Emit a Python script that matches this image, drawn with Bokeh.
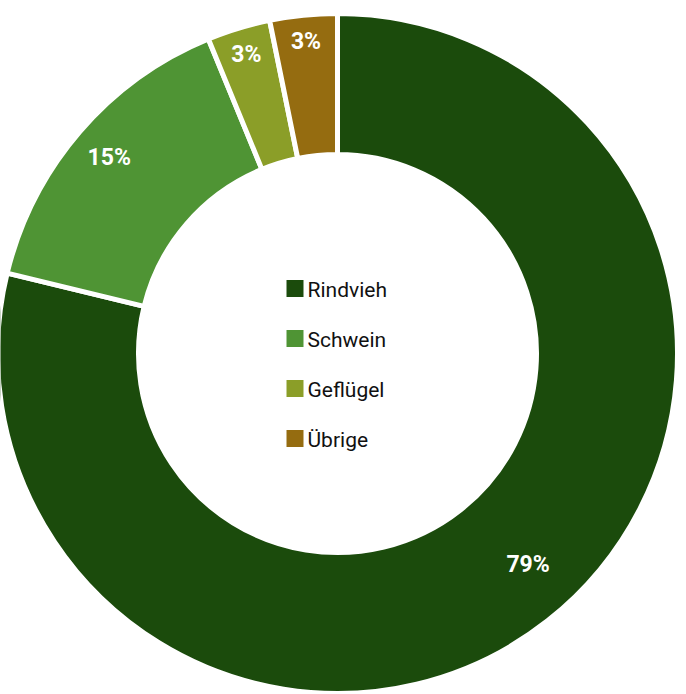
import math
from bokeh.plotting import figure
from bokeh.models import Range1d, ColumnDataSource
from bokeh.core.properties import value
from bokeh.embed import file_html
from bokeh.resources import INLINE

# data
categories = ["Rindvieh", "Schwein", "Geflügel", "Übrige"]
shares = [78.8, 15.0, 3.0, 3.2]
colors = ["#1b4b0c", "#4f9434", "#8b9e28", "#956c10"]

# layout (pixels)
W, H = 686, 694
cx, cy = 337, H - 353
r_out, r_in = 340, 199
label_r = [284, 301, 313, 314]
label_shift_deg = [-4, 0, 0, 0]

total = sum(shares)
starts, ends, lx, ly, labels = [], [], [], [], []
acc = 0.0
for i, s in enumerate(shares):
    a0 = math.pi / 2 - 2 * math.pi * acc / total
    acc += s
    a1 = math.pi / 2 - 2 * math.pi * acc / total
    starts.append(a0)
    ends.append(a1)
    mid = (a0 + a1) / 2 - math.radians(label_shift_deg[i])
    lx.append(cx + label_r[i] * math.cos(mid))
    ly.append(cy + label_r[i] * math.sin(mid))
    labels.append(f"{round(100 * s / total)}%")

src = ColumnDataSource(dict(start=starts, end=ends, color=colors,
                            lx=lx, ly=ly, label=labels))

p = figure(width=W, height=H, x_range=Range1d(0, W), y_range=Range1d(0, H),
           output_backend="svg", toolbar_location=None, min_border=0)
p.axis.visible = False
p.grid.visible = False
p.outline_line_color = None
p.background_fill_color = "white"
p.border_fill_color = "white"

p.annular_wedge(x=cx, y=cy, inner_radius=r_in, outer_radius=r_out,
                start_angle="start", end_angle="end", direction="clock",
                fill_color="color", line_color="white", line_width=5, source=src)

p.text(x="lx", y="ly", text="label", source=src, text_color="white",
       text_font=value("Roboto"), text_font_style="bold",
       text_font_size="23px", text_align="center", text_baseline="middle")

# legend
leg_y = [H - 288, H - 338, H - 388, H - 438]
p.rect(x=[294.5] * 4, y=leg_y, width=17, height=17, fill_color=colors, line_color=None)
p.text(x=[307] * 4, y=[y - 1 for y in leg_y], text=categories, text_color="#111111",
       text_font=value("Roboto"), text_font_size="21px",
       text_align="left", text_baseline="middle")

open("out.html", "w").write(file_html(p, INLINE))
